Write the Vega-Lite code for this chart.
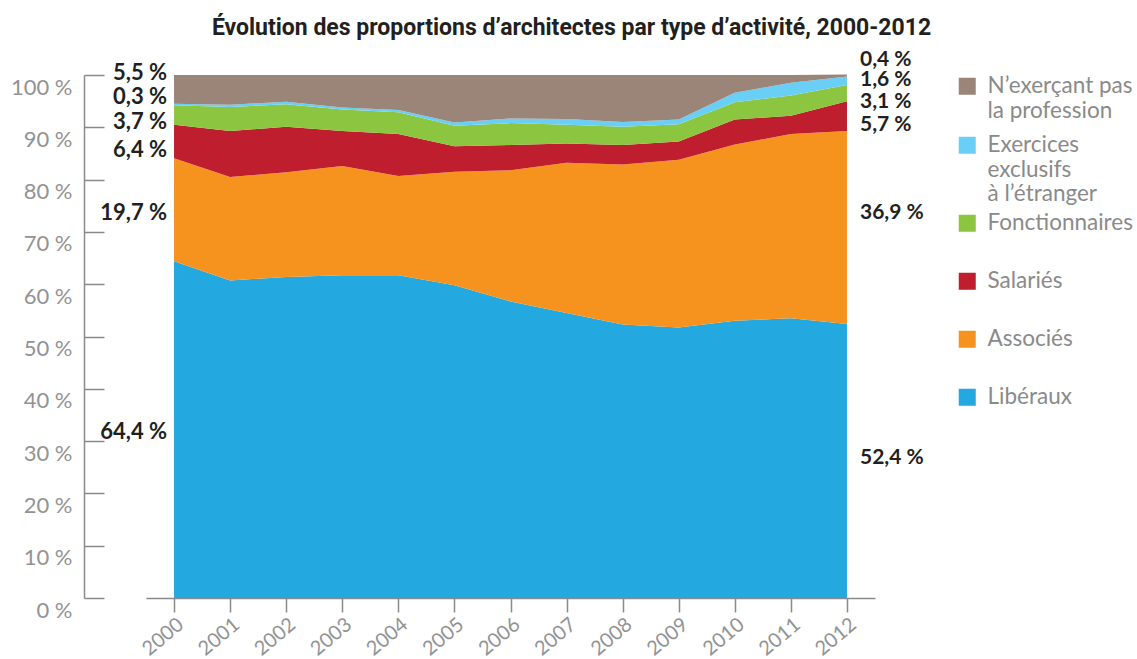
{
  "$schema": "https://vega.github.io/schema/vega-lite/v6.json",
  "width": 729,
  "height": 523,
  "autosize": {"type": "none"},
  "padding": {"left": 146, "top": 75, "right": 262, "bottom": 61},
  "background": "white",
  "title": {
    "text": "Évolution des proportions d’architectes par type d’activité, 2000-2012",
    "font": "Roboto",
    "fontSize": 23,
    "fontWeight": "bold",
    "color": "#231f20",
    "anchor": "middle",
    "frame": "group",
    "dx": 61,
    "offset": 9
  },
  "config": {"view": {"stroke": null}},
  "datasets": {
    "cats": [
      {"category": "Libéraux", "rank": 1},
      {"category": "Associés", "rank": 2},
      {"category": "Salariés", "rank": 3},
      {"category": "Fonctionnaires", "rank": 4},
      {"category": "Exercices exclusifs à l’étranger", "rank": 5},
      {"category": "N’exerçant pas la profession", "rank": 6}
    ],
    "shares": [
      {"year": 2000, "category": "Libéraux", "share": 64.4},
      {"year": 2000, "category": "Associés", "share": 19.7},
      {"year": 2000, "category": "Salariés", "share": 6.4},
      {"year": 2000, "category": "Fonctionnaires", "share": 3.7},
      {"year": 2000, "category": "Exercices exclusifs à l’étranger", "share": 0.3},
      {"year": 2000, "category": "N’exerçant pas la profession", "share": 5.5},
      {"year": 2001, "category": "Libéraux", "share": 60.7},
      {"year": 2001, "category": "Associés", "share": 19.8},
      {"year": 2001, "category": "Salariés", "share": 8.8},
      {"year": 2001, "category": "Fonctionnaires", "share": 4.6},
      {"year": 2001, "category": "Exercices exclusifs à l’étranger", "share": 0.4},
      {"year": 2001, "category": "N’exerçant pas la profession", "share": 5.7},
      {"year": 2002, "category": "Libéraux", "share": 61.4},
      {"year": 2002, "category": "Associés", "share": 20.0},
      {"year": 2002, "category": "Salariés", "share": 8.7},
      {"year": 2002, "category": "Fonctionnaires", "share": 4.3},
      {"year": 2002, "category": "Exercices exclusifs à l’étranger", "share": 0.5},
      {"year": 2002, "category": "N’exerçant pas la profession", "share": 5.1},
      {"year": 2003, "category": "Libéraux", "share": 61.7},
      {"year": 2003, "category": "Associés", "share": 20.9},
      {"year": 2003, "category": "Salariés", "share": 6.7},
      {"year": 2003, "category": "Fonctionnaires", "share": 4.1},
      {"year": 2003, "category": "Exercices exclusifs à l’étranger", "share": 0.4},
      {"year": 2003, "category": "N’exerçant pas la profession", "share": 6.2},
      {"year": 2004, "category": "Libéraux", "share": 61.7},
      {"year": 2004, "category": "Associés", "share": 19.0},
      {"year": 2004, "category": "Salariés", "share": 8.0},
      {"year": 2004, "category": "Fonctionnaires", "share": 4.2},
      {"year": 2004, "category": "Exercices exclusifs à l’étranger", "share": 0.4},
      {"year": 2004, "category": "N’exerçant pas la profession", "share": 6.7},
      {"year": 2005, "category": "Libéraux", "share": 59.8},
      {"year": 2005, "category": "Associés", "share": 21.7},
      {"year": 2005, "category": "Salariés", "share": 4.9},
      {"year": 2005, "category": "Fonctionnaires", "share": 3.9},
      {"year": 2005, "category": "Exercices exclusifs à l’étranger", "share": 0.6},
      {"year": 2005, "category": "N’exerçant pas la profession", "share": 9.1},
      {"year": 2006, "category": "Libéraux", "share": 56.7},
      {"year": 2006, "category": "Associés", "share": 25.1},
      {"year": 2006, "category": "Salariés", "share": 4.8},
      {"year": 2006, "category": "Fonctionnaires", "share": 4.2},
      {"year": 2006, "category": "Exercices exclusifs à l’étranger", "share": 0.9},
      {"year": 2006, "category": "N’exerçant pas la profession", "share": 8.3},
      {"year": 2007, "category": "Libéraux", "share": 54.5},
      {"year": 2007, "category": "Associés", "share": 28.7},
      {"year": 2007, "category": "Salariés", "share": 3.7},
      {"year": 2007, "category": "Fonctionnaires", "share": 3.6},
      {"year": 2007, "category": "Exercices exclusifs à l’étranger", "share": 1.1},
      {"year": 2007, "category": "N’exerçant pas la profession", "share": 8.4},
      {"year": 2008, "category": "Libéraux", "share": 52.3},
      {"year": 2008, "category": "Associés", "share": 30.6},
      {"year": 2008, "category": "Salariés", "share": 3.7},
      {"year": 2008, "category": "Fonctionnaires", "share": 3.5},
      {"year": 2008, "category": "Exercices exclusifs à l’étranger", "share": 0.9},
      {"year": 2008, "category": "N’exerçant pas la profession", "share": 9.0},
      {"year": 2009, "category": "Libéraux", "share": 51.7},
      {"year": 2009, "category": "Associés", "share": 32.1},
      {"year": 2009, "category": "Salariés", "share": 3.5},
      {"year": 2009, "category": "Fonctionnaires", "share": 3.3},
      {"year": 2009, "category": "Exercices exclusifs à l’étranger", "share": 0.9},
      {"year": 2009, "category": "N’exerçant pas la profession", "share": 8.5},
      {"year": 2010, "category": "Libéraux", "share": 53.0},
      {"year": 2010, "category": "Associés", "share": 33.7},
      {"year": 2010, "category": "Salariés", "share": 4.8},
      {"year": 2010, "category": "Fonctionnaires", "share": 3.3},
      {"year": 2010, "category": "Exercices exclusifs à l’étranger", "share": 1.8},
      {"year": 2010, "category": "N’exerçant pas la profession", "share": 3.4},
      {"year": 2011, "category": "Libéraux", "share": 53.5},
      {"year": 2011, "category": "Associés", "share": 35.2},
      {"year": 2011, "category": "Salariés", "share": 3.5},
      {"year": 2011, "category": "Fonctionnaires", "share": 3.9},
      {"year": 2011, "category": "Exercices exclusifs à l’étranger", "share": 2.4},
      {"year": 2011, "category": "N’exerçant pas la profession", "share": 1.5},
      {"year": 2012, "category": "Libéraux", "share": 52.4},
      {"year": 2012, "category": "Associés", "share": 36.9},
      {"year": 2012, "category": "Salariés", "share": 5.7},
      {"year": 2012, "category": "Fonctionnaires", "share": 3.1},
      {"year": 2012, "category": "Exercices exclusifs à l’étranger", "share": 1.6},
      {"year": 2012, "category": "N’exerçant pas la profession", "share": 0.4}
    ],
    "labels": [
      {"year": 2000, "side": "left", "txt": "5,5 %", "pos": 100.3},
      {"year": 2000, "side": "left", "txt": "0,3 %", "pos": 95.7},
      {"year": 2000, "side": "left", "txt": "3,7 %", "pos": 91.1},
      {"year": 2000, "side": "left", "txt": "6,4 %", "pos": 85.6},
      {"year": 2000, "side": "left", "txt": "19,7 %", "pos": 73.6},
      {"year": 2000, "side": "left", "txt": "64,4 %", "pos": 31.8},
      {"year": 2012, "side": "right", "txt": "0,4 %", "pos": 102.9},
      {"year": 2012, "side": "right", "txt": "1,6 %", "pos": 99.0},
      {"year": 2012, "side": "right", "txt": "3,1 %", "pos": 94.8},
      {"year": 2012, "side": "right", "txt": "5,7 %", "pos": 90.5},
      {"year": 2012, "side": "right", "txt": "36,9 %", "pos": 73.6},
      {"year": 2012, "side": "right", "txt": "52,4 %", "pos": 26.8}
    ]
  },
  "layer": [
    {
      "data": {"name": "shares"},
      "transform": [
        {"lookup": "category", "from": {"data": {"name": "cats"}, "key": "category", "fields": ["rank"]}}
      ],
      "mark": {"type": "area", "interpolate": "linear", "opacity": 1, "strokeWidth": 0},
      "encoding": {
        "x": {
          "field": "year",
          "type": "quantitative",
          "scale": {"domain": [1999.5, 2012.5], "nice": false, "zero": false},
          "axis": {
            "title": null,
            "grid": false,
            "values": [2000, 2001, 2002, 2003, 2004, 2005, 2006, 2007, 2008, 2009, 2010, 2011, 2012],
            "format": "d",
            "tickSize": 14,
            "labelAngle": -40,
            "labelPadding": 2,
            "labelFont": "Lato",
            "labelFontSize": 20,
            "labelColor": "#939393",
            "domainColor": "#8a8a8a",
            "tickColor": "#8a8a8a",
            "domainWidth": 1.5,
            "tickWidth": 1.5
          }
        },
        "y": {
          "field": "share",
          "type": "quantitative",
          "stack": "zero",
          "scale": {"domain": [0, 100], "nice": false},
          "axis": {
            "title": null,
            "grid": false,
            "values": [0, 10, 20, 30, 40, 50, 60, 70, 80, 90, 100],
            "labelExpr": "datum.value + ' %'",
            "offset": 62,
            "tickSize": -20,
            "labelPadding": 32,
            "labelOffset": 12,
            "labelFont": "Lato",
            "labelFontSize": 22,
            "labelColor": "#939393",
            "domainColor": "#8a8a8a",
            "tickColor": "#8a8a8a",
            "domainWidth": 1.5,
            "tickWidth": 1.5
          }
        },
        "order": {"field": "rank", "type": "quantitative", "sort": "ascending"},
        "fill": {
          "field": "category",
          "type": "nominal",
          "scale": {
            "domain": ["Libéraux", "Associés", "Salariés", "Fonctionnaires", "Exercices exclusifs à l’étranger", "N’exerçant pas la profession"],
            "range": ["#23a8df", "#f6921e", "#be1e2d", "#8cc53f", "#6acff6", "#9b8579"]
          },
          "legend": {
            "orient": "none",
            "legendX": 810,
            "legendY": 137,
            "title": null,
            "values": ["Fonctionnaires", "Salariés", "Associés", "Libéraux"],
            "symbolType": "square",
            "symbolSize": 289,
            "symbolStrokeWidth": 0,
            "symbolOpacity": 1,
            "labelFont": "Lato",
            "labelFontSize": 22.5,
            "labelColor": "#8a8a8a",
            "labelOffset": 9,
            "labelLimit": 300,
            "rowPadding": 35
          }
        },
        "stroke": {
          "field": "category",
          "type": "nominal",
          "scale": {
            "domain": ["N’exerçant pas la profession", "Exercices exclusifs à l’étranger"],
            "range": ["#9b8579", "#6acff6"]
          },
          "legend": {
            "orient": "none",
            "legendX": 810,
            "legendY": 0,
            "title": null,
            "labelExpr": "datum.label == 'N’exerçant pas la profession' ? ['N’exerçant pas', 'la profession'] : ['Exercices', 'exclusifs', 'à l’étranger']",
            "symbolType": "square",
            "symbolSize": 64,
            "symbolStrokeWidth": 9,
            "symbolOpacity": 1,
            "symbolFillColor": "transparent",
            "labelFont": "Lato",
            "labelFontSize": 22.5,
            "labelColor": "#8a8a8a",
            "labelOffset": 9,
            "labelLimit": 300,
            "rowPadding": 0
          }
        }
      }
    },
    {
      "data": {"name": "labels"},
      "transform": [{"filter": "datum.side == 'left'"}],
      "mark": {"type": "text", "align": "right", "baseline": "middle", "dx": -7, "font": "Lato", "fontSize": 22, "fontWeight": "bold", "color": "#231f20"},
      "encoding": {
        "x": {"field": "year", "type": "quantitative"},
        "y": {"field": "pos", "type": "quantitative"},
        "text": {"field": "txt", "type": "nominal"}
      }
    },
    {
      "data": {"name": "labels"},
      "transform": [{"filter": "datum.side == 'right'"}],
      "mark": {"type": "text", "align": "left", "baseline": "middle", "dx": 13, "font": "Lato", "fontSize": 21, "fontWeight": "bold", "color": "#231f20"},
      "encoding": {
        "x": {"field": "year", "type": "quantitative"},
        "y": {"field": "pos", "type": "quantitative"},
        "text": {"field": "txt", "type": "nominal"}
      }
    }
  ]
}
